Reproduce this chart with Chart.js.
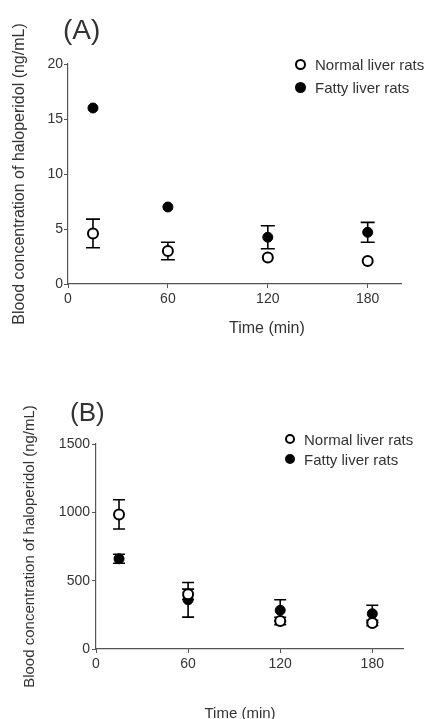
<!DOCTYPE html>
<html>
<head>
<meta charset="utf-8">
<script src="https://cdn.jsdelivr.net/npm/chart.js@4/dist/chart.umd.min.js"></script>
<style>
    body { margin: 0; width: 431px; height: 719px; background: #fff; overflow: hidden; position: relative;
           font-family: Arial, "Liberation Sans", sans-serif; color: #333; }
    .panel { position: absolute; left: 0; width: 431px; }
    .lbl { position: absolute; white-space: nowrap; line-height: 1; }
    .legend { position: absolute; line-height: 1; }
    .legend .row { position: absolute; left: 0; white-space: nowrap; display: flex; align-items: center; }
    .dot { display: inline-block; box-sizing: border-box; border-radius: 50%; border: 2px solid #000; }
</style>
</head>
<body>
<div class="panel" style="top:0;height:340px"><canvas id="chartA"></canvas></div>
<div class="panel" style="top:340px;height:379px"><canvas id="chartB"></canvas></div>

<div class="lbl" style="left:63px;top:16px;font-size:28px">(A)</div>
<div class="lbl" id="xTitleA" style="font-size:16px"></div>
<div class="legend" id="legendA"></div>

<div class="lbl" style="left:70px;top:399px;font-size:26px">(B)</div>
<div class="lbl" id="xTitleB" style="font-size:15px"></div>
<div class="legend" id="legendB"></div>

<script>
// Sampling times (min)
const times = [15, 60, 120, 180];
const xTicks = [0, 60, 120, 180];
const seriesNames = ['Normal liver rats', 'Fatty liver rats'];

// Panel A
const normalA = [4.6, 3.0, 2.4, 2.1];
const normalAErr = [1.3, 0.8, 0, 0];
const fattyA = [16.0, 7.0, 4.25, 4.7];
const fattyAErr = [0, 0, 1.05, 0.9];
const yTicksA = [0, 5, 10, 15, 20];

// Panel B
const normalB = [985, 400, 205, 190];
const normalBErr = [107, 38, 27, 20];
const fattyB = [660, 360, 283, 258];
const fattyBErr = [33, 127, 77, 62];
const yTicksB = [0, 500, 1000, 1500];

const yTitle = 'Blood concentration of haloperidol (ng/mL)';
const xTitle = 'Time (min)';

const fontFamily = 'Arial, "Liberation Sans", sans-serif';
const textColor = '#333';
const axisColor = '#555';

// Error bars drawn under the markers
const errorBars = {
    id: 'errorBars',
    beforeDatasetsDraw(chart, args, opts) {
        const { ctx, scales: { x, y } } = chart;
        ctx.save();
        ctx.strokeStyle = '#000';
        ctx.lineWidth = 1.6;
        chart.data.datasets.forEach(ds => {
            ds.data.forEach((p, i) => {
                const e = ds.errors[i];
                if (!e) return;
                const px = x.getPixelForValue(p.x);
                const top = y.getPixelForValue(p.y + e);
                const bot = y.getPixelForValue(p.y - e);
                const w = opts.capHalf;
                ctx.beginPath();
                ctx.moveTo(px, top); ctx.lineTo(px, bot);
                ctx.moveTo(px - w, top); ctx.lineTo(px + w, top);
                ctx.moveTo(px - w, bot); ctx.lineTo(px + w, bot);
                ctx.stroke();
            });
        });
        ctx.restore();
    }
};

function points(values) {
    return times.map((t, i) => ({ x: t, y: values[i] }));
}

function makeChart(id, p) {
    const ctx = document.getElementById(id).getContext('2d');
    return new Chart(ctx, {
        type: 'scatter',
        data: {
            datasets: [{
                label: seriesNames[0],
                data: points(p.normal),
                errors: p.normalErr,
                pointStyle: 'circle',
                pointRadius: p.radius,
                pointBorderWidth: 2,
                pointBackgroundColor: '#fff',
                pointBorderColor: '#000'
            }, {
                label: seriesNames[1],
                data: points(p.fatty),
                errors: p.fattyErr,
                pointStyle: 'circle',
                pointRadius: p.radius,
                pointBorderWidth: 1,
                pointBackgroundColor: '#000',
                pointBorderColor: '#000'
            }]
        },
        options: {
            responsive: true,
            maintainAspectRatio: false,
            animation: false,
            events: [],
            layout: { padding: { left: 0, top: p.top, right: p.right, bottom: 0 } },
            plugins: {
                legend: { display: false },
                tooltip: { enabled: false },
                errorBars: { capHalf: p.capHalf }
            },
            scales: {
                x: {
                    type: 'linear',
                    min: 0,
                    max: 200,
                    afterBuildTicks: s => { s.ticks = xTicks.map(v => ({ value: v })); },
                    afterFit: s => { s.height = p.xHeight; },
                    border: { display: true, color: axisColor, width: 1.2 },
                    grid: { display: true, drawOnChartArea: false, drawTicks: true, tickLength: 4, color: axisColor },
                    ticks: { color: textColor, padding: 3, maxRotation: 0, callback: v => String(v),
                             font: { size: 14, family: fontFamily } }
                },
                y: {
                    min: 0,
                    max: p.yMax,
                    afterBuildTicks: s => { s.ticks = p.yTicks.map(v => ({ value: v })); },
                    afterFit: s => { s.width = p.yWidth; },
                    border: { display: true, color: axisColor, width: 1.2 },
                    grid: { display: true, drawOnChartArea: false, drawTicks: true, tickLength: 4, color: axisColor },
                    ticks: { color: textColor, padding: p.tickPad, callback: v => String(v),
                             font: { size: 14, family: fontFamily } },
                    title: {
                        display: true,
                        text: yTitle,
                        color: textColor,
                        font: { size: p.titleSize, family: fontFamily },
                        padding: { top: p.titlePad, bottom: 0 }
                    }
                }
            }
        },
        plugins: [errorBars]
    });
}

// Legend and x title as page text
function buildLegend(id, left, top, gap, size, dot) {
    const el = document.getElementById(id);
    el.style.left = left + 'px';
    el.style.top = top + 'px';
    seriesNames.forEach((name, i) => {
        const row = document.createElement('div');
        row.className = 'row';
        row.style.top = (i * gap) + 'px';
        row.style.fontSize = size + 'px';
        row.style.height = '20px';
        const fill = i === 0 ? '#fff' : '#000';
        row.innerHTML = `<span class="dot" style="width:${dot}px;height:${dot}px;background:${fill}"></span>` +
            `<span style="margin-left:9px">${name}</span>`;
        el.appendChild(row);
    });
}

function placeTitle(id, cx, cy) {
    const el = document.getElementById(id);
    el.textContent = xTitle;
    el.style.left = (cx - el.offsetWidth / 2) + 'px';
    el.style.top = (cy - el.offsetHeight / 2) + 'px';
}

makeChart('chartA', {
    normal: normalA, normalErr: normalAErr, fatty: fattyA, fattyErr: fattyAErr,
    yMax: 20, yTicks: yTicksA, top: 64, right: 30, xHeight: 56, yWidth: 68,
    tickPad: 1, titleSize: 16, titlePad: 10, radius: 5, capHalf: 7
});

makeChart('chartB', {
    normal: normalB, normalErr: normalBErr, fatty: fattyB, fattyErr: fattyBErr,
    yMax: 1500, yTicks: yTicksB, top: 104, right: 28, xHeight: 70, yWidth: 96,
    tickPad: 2, titleSize: 15, titlePad: 21, radius: 5, capHalf: 6
});

buildLegend('legendA', 295, 54, 23, 15, 11);
buildLegend('legendB', 285, 429, 20, 15, 10);
placeTitle('xTitleA', 267, 328);
placeTitle('xTitleB', 240, 712);
</script>
</body>
</html>
